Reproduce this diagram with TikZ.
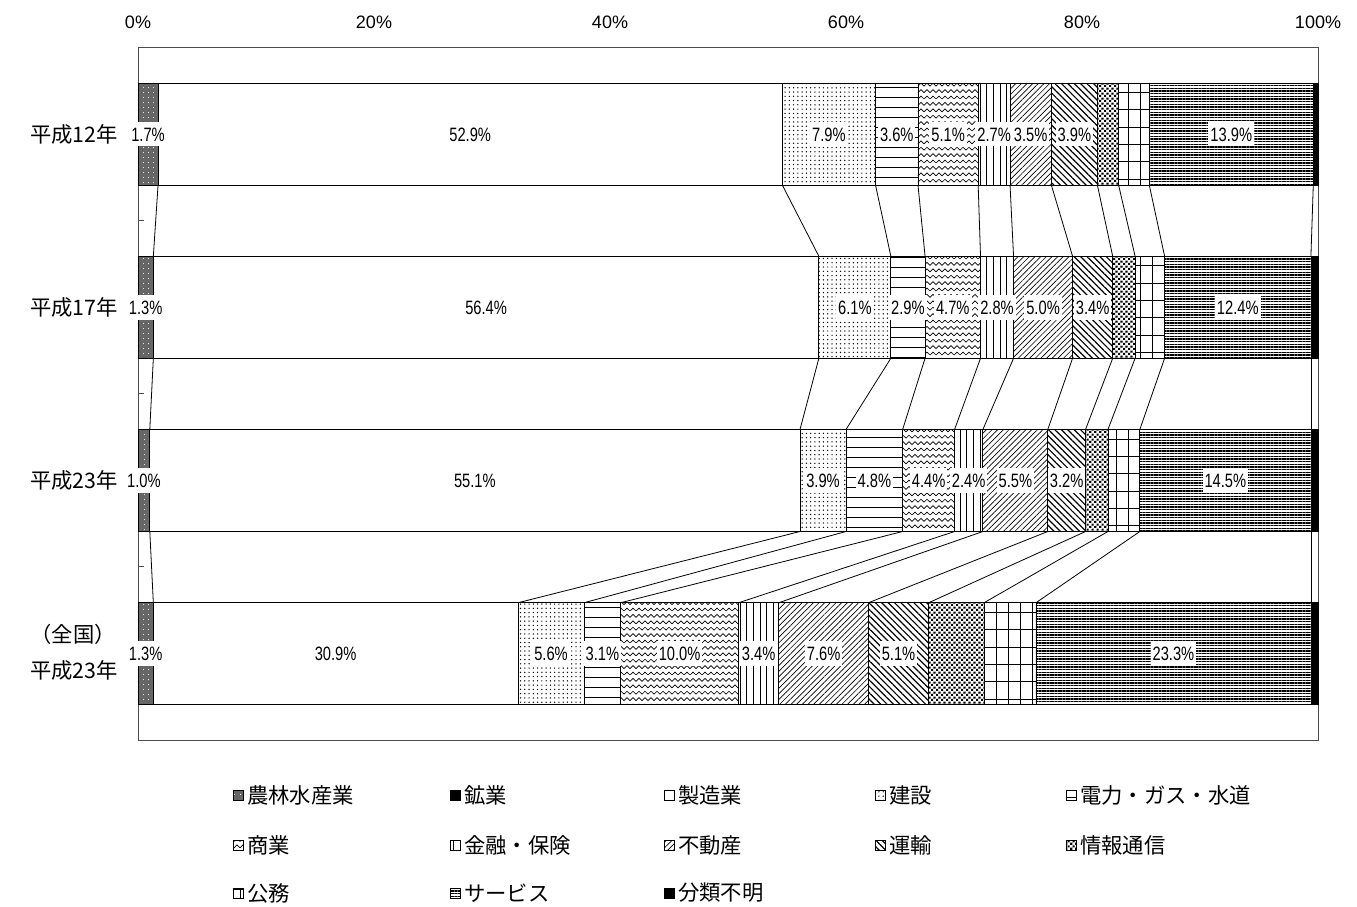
\documentclass[tikz,border=0pt]{standalone}
\usepackage{fontspec}
\setmainfont{Noto Sans CJK JP}
\newfontfamily\numfont{Liberation Sans}
\newfontfamily\lblfont[FakeStretch=0.76]{Liberation Sans}
\usetikzlibrary{patterns,patterns.meta}

\pgfdeclarepatternformonly{zigzag}{\pgfqpoint{-0.5pt}{-0.5pt}}{\pgfqpoint{5pt}{5.3pt}}{\pgfqpoint{4.5pt}{4.8pt}}{%
  \pgfsetlinewidth{0.5pt}%
  \pgfpathmoveto{\pgfqpoint{0pt}{1.2pt}}%
  \pgfpathlineto{\pgfqpoint{2.25pt}{3.4pt}}%
  \pgfpathlineto{\pgfqpoint{4.5pt}{1.2pt}}%
  \pgfusepath{stroke}}
\pgfdeclarepatternformonly{blobs}{\pgfqpoint{0pt}{0pt}}{\pgfqpoint{3.6pt}{3.6pt}}{\pgfqpoint{3.6pt}{3.6pt}}{%
  \pgfpathrectangle{\pgfqpoint{0.1pt}{0.1pt}}{\pgfqpoint{1.6pt}{1.6pt}}%
  \pgfpathrectangle{\pgfqpoint{1.9pt}{1.9pt}}{\pgfqpoint{1.6pt}{1.6pt}}%
  \pgfusepath{fill}}
\pgfdeclarepatternformonly{pubgrid}{\pgfqpoint{-0.5pt}{-0.5pt}}{\pgfqpoint{9.5pt}{13.5pt}}{\pgfqpoint{9pt}{13pt}}{%
  \pgfsetlinewidth{0.6pt}%
  \pgfpathmoveto{\pgfqpoint{0pt}{0pt}}\pgfpathlineto{\pgfqpoint{9pt}{0pt}}%
  \pgfpathmoveto{\pgfqpoint{0pt}{0pt}}\pgfpathlineto{\pgfqpoint{0pt}{13pt}}%
  \pgfusepath{stroke}}

\begin{document}
\begin{tikzpicture}[x=0.75pt,y=-0.75pt,
  seg/.style={draw=black,line width=0.6pt},
  conn/.style={draw=black,line width=0.6pt},
  frame/.style={draw=black!70,line width=0.75pt},
  pAgr/.style={preaction={fill=black!60},pattern={Dots[radius=0.4pt,distance=4pt]},pattern color=white},
  pMfg/.style={fill=white},
  pCon/.style={pattern={Dots[radius=0.55pt,distance=3.2pt]}},
  pUtil/.style={pattern={Lines[angle=0,distance=7.5pt,line width=0.7pt]}},
  pCom/.style={pattern=zigzag},
  pFin/.style={pattern={Lines[angle=90,distance=5pt,line width=0.7pt]}},
  pRe/.style={pattern={Lines[angle=45,distance=3pt,line width=0.5pt]}},
  pTrn/.style={pattern={Lines[angle=-45,distance=3.4pt,line width=0.9pt]}},
  pIct/.style={pattern=blobs},
  pPub/.style={pattern=pubgrid},
  pSvc/.style={pattern={Lines[angle=0,distance=2pt,line width=0.8pt]}},
  pUnk/.style={fill=black},
  lbl/.style={fill=white,inner xsep=1.5pt,inner ysep=4pt,text height=10.5pt,text depth=0pt,font=\lblfont\fontsize{14.5}{16}\selectfont},
  axlbl/.style={font=\numfont\fontsize{13.5}{15}\selectfont,inner sep=0pt},
  rowlbl/.style={anchor=east,inner sep=0pt,font=\fontsize{16}{19}\selectfont},
  legtxt/.style={anchor=west,inner sep=0pt,font=\fontsize{16}{20}\selectfont}
]
\useasboundingbox (0,0) rectangle (1357,907);
\fill[white] (0,0) rectangle (1357,907);

\begin{scope}[xshift=103.5pt,x=8.85pt]
  % frame and ticks
  \draw[frame] (0,47) rectangle (100,740);
  \foreach \y in {220.25,393.5,566.75} \draw[frame] (0,\y) -- (0.55,\y);
  % axis labels
  \foreach \p in {0,20,40,60,80,100} \node[axlbl] (ax\p) at (\p,22) {\p\%};

  % bars
  \newcommand\drawrow[3]{%
    \foreach \a/\b/\s [count=\i] in {#3} {
      \path[seg,\s] (\a,#2) rectangle (\b,#2+102);
      \coordinate (#1t\i) at (\b,#2);
      \coordinate (#1b\i) at (\b,#2+102);
    }}
  \drawrow{ra}{83}{0/1.7/pAgr,1.7/54.6/pMfg,54.6/62.5/pCon,62.5/66.1/pUtil,66.1/71.2/pCom,71.2/73.9/pFin,73.9/77.4/pRe,77.4/81.3/pTrn,81.3/83.1/pIct,83.1/85.7/pPub,85.7/99.6/pSvc,99.6/100/pUnk}
  \drawrow{rb}{256.25}{0/1.3/pAgr,1.3/57.7/pMfg,57.7/63.8/pCon,63.8/66.7/pUtil,66.7/71.4/pCom,71.4/74.2/pFin,74.2/79.2/pRe,79.2/82.6/pTrn,82.6/84.5/pIct,84.5/87.0/pPub,87.0/99.4/pSvc,99.4/100/pUnk}
  \drawrow{rc}{429.5}{0/1.0/pAgr,1.0/56.1/pMfg,56.1/60.0/pCon,60.0/64.8/pUtil,64.8/69.2/pCom,69.2/71.6/pFin,71.6/77.1/pRe,77.1/80.3/pTrn,80.3/82.2/pIct,82.2/84.9/pPub,84.9/99.4/pSvc,99.4/100/pUnk}
  \drawrow{rd}{602.75}{0/1.3/pAgr,1.3/32.2/pMfg,32.2/37.8/pCon,37.8/40.9/pUtil,40.9/50.9/pCom,50.9/54.3/pFin,54.3/61.9/pRe,61.9/67.0/pTrn,67.0/71.7/pIct,71.7/76.1/pPub,76.1/99.4/pSvc,99.4/100/pUnk}

  % series connectors
  \foreach \i in {1,...,11} {
    \draw[conn] (rab\i) -- (rbt\i);
    \draw[conn] (rbb\i) -- (rct\i);
    \draw[conn] (rcb\i) -- (rdt\i);
  }

  % data labels
  \foreach \x/\t [count=\k] in {0.85/1.7,28.15/52.9,58.55/7.9,64.3/3.6,68.65/5.1,72.55/2.7,75.65/3.5,79.35/3.9,92.65/13.9}
    \node[lbl] (la\k) at (\x,134) {\t\%};
  \foreach \x/\t [count=\k] in {0.65/1.3,29.5/56.4,60.75/6.1,65.25/2.9,69.05/4.7,72.8/2.8,76.7/5.0,80.9/3.4,93.2/12.4}
    \node[lbl] (lb\k) at (\x,307.25) {\t\%};
  \foreach \x/\t [count=\k] in {0.5/1.0,28.55/55.1,58.05/3.9,62.4/4.8,67.0/4.4,70.4/2.4,74.35/5.5,78.7/3.2,92.15/14.5}
    \node[lbl] (lc\k) at (\x,480.5) {\t\%};
  \foreach \x/\t [count=\k] in {0.65/1.3,16.75/30.9,35.0/5.6,39.35/3.1,45.9/10.0,52.6/3.4,58.1/7.6,64.45/5.1,87.75/23.3}
    \node[lbl] (ld\k) at (\x,653.75) {\t\%};
\end{scope}

% category labels
\node[rowlbl] (c1) at (118,134) {平成12年};
\node[rowlbl] (c2) at (118,307) {平成17年};
\node[rowlbl] (c3) at (118,480) {平成23年};
\node[rowlbl] (c4a) at (116,634) {（全国）};
\node[rowlbl] (c4b) at (118,670) {平成23年};

% legend
\foreach \x/\y/\s/\t [count=\k] in {
  233/795/pAgr/農林水産業, 450/795/pUnk/鉱業, 664/795/pMfg/製造業, 875/795/pCon/建設, 1066/795/pUtil/電力・ガス・水道,
  233/845/pCom/商業, 450/845/pFin/金融・保険, 664/845/pRe/不動産, 875/845/pTrn/運輸, 1066/845/pIct/情報通信,
  233/893/pPub/公務, 450/893/pSvc/サービス, 664/893/pUnk/分類不明} {
  \path[seg,line width=0.4pt,\s] (\x,\y-5) rectangle (\x+10,\y+5);
  \node[legtxt] (lg\k) at (\x+14,\y) {\t};
}
\end{tikzpicture}
\end{document}
